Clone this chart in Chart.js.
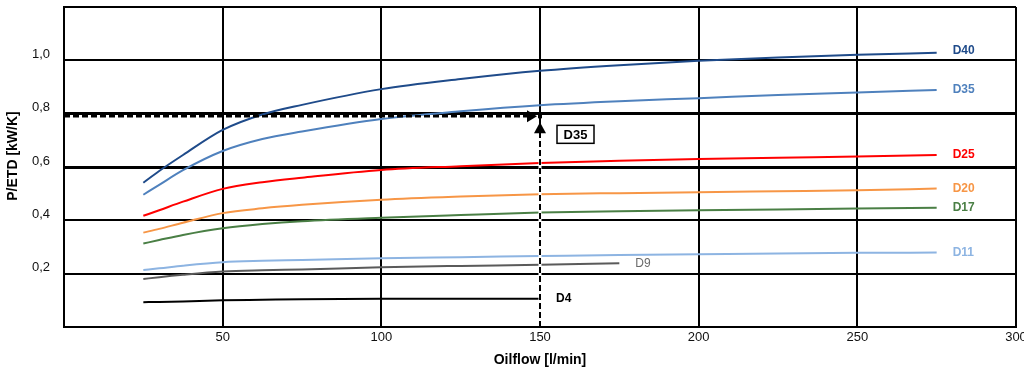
<!DOCTYPE html>
<html>
<head>
<meta charset="utf-8">
<script src="https://cdn.jsdelivr.net/npm/chart.js@4.4.0/dist/chart.umd.min.js"></script>
<style>
    body { margin: 0; background: #fff; }
    #wrap { width: 1024px; height: 369px; }
</style>
</head>
<body>
<div id="wrap"><canvas id="chart" width="1024" height="369"></canvas></div>
<script>
// 데이터 (Oilflow [l/min] → P/ETD [kW/K])
const flow = [25, 30, 37.5, 50, 62.5, 75, 100, 125, 150, 175, 200, 225, 250, 275];
const d40 = [0.541, 0.585, 0.645, 0.739, 0.797, 0.833, 0.892, 0.930, 0.961, 0.982, 0.998, 1.011, 1.021, 1.028];
const d35 = [0.496, 0.533, 0.588, 0.660, 0.705, 0.733, 0.780, 0.809, 0.832, 0.847, 0.858, 0.870, 0.879, 0.889];
const d25 = [0.417, 0.438, 0.470, 0.518, 0.543, 0.560, 0.589, 0.603, 0.615, 0.623, 0.630, 0.635, 0.639, 0.645];
const d20 = [0.354, 0.368, 0.391, 0.427, 0.445, 0.458, 0.477, 0.489, 0.498, 0.502, 0.505, 0.509, 0.513, 0.519];
const d17 = [0.313, 0.326, 0.345, 0.370, 0.386, 0.397, 0.410, 0.420, 0.429, 0.434, 0.438, 0.441, 0.444, 0.447];
const d11 = [0.214, 0.220, 0.230, 0.243, 0.248, 0.251, 0.258, 0.262, 0.266, 0.270, 0.273, 0.276, 0.278, 0.279];
const d9 = [0.180, 0.187, 0.196, 0.208, 0.213, 0.216, 0.224, 0.229, 0.233, 0.239];
const d4 = [0.093, 0.094, 0.096, 0.100, 0.102, 0.104, 0.106, 0.106, 0.106];

const seriesNames = ['D40', 'D35', 'D25', 'D20', 'D17', 'D11', 'D9', 'D4'];
const seriesValues = [d40, d35, d25, d20, d17, d11, d9, d4];
const seriesColors = ['#1f4b8a', '#4f81bd', '#ff0000', '#f79646', '#4a7f45', '#8db4e2', '#5a5a5a', '#000000'];
const labelColors = ['#1f4b8a', '#4f81bd', '#ff0000', '#f79646', '#4a7f45', '#8db4e2', '#6a6a6a', '#000000'];

const xTicks = [50, 100, 150, 200, 250, 300];
const yTicks = [0.2, 0.4, 0.6, 0.8, 1.0];

// 예시 읽기 (150 l/min, D35)
const readFlow = 150;
const readValue = 0.79;
const readLabel = 'D35';

const FONT = "'Liberation Sans', Arial, sans-serif";

const datasets = seriesNames.map((name, i) => ({
    label: name,
    data: seriesValues[i].map((v, j) => ({ x: flow[j], y: v })),
    borderColor: seriesColors[i],
    borderWidth: 2,
    pointRadius: 0,
    fill: false,
    cubicInterpolationMode: 'monotone'
}));

// 곡선 이름, 축 제목, 읽기 화살표
const overlayPlugin = {
    id: 'overlay',
    afterDatasetsDraw(chart) {
        const ctx = chart.ctx;
        const area = chart.chartArea;
        const xs = chart.scales.x;
        const ys = chart.scales.y;
        ctx.save();

        // 곡선 끝 라벨
        ctx.textBaseline = 'middle';
        ctx.textAlign = 'left';
        seriesNames.forEach((name, i) => {
            const pts = chart.getDatasetMeta(i).data;
            const last = pts[pts.length - 1];
            ctx.font = (name === 'D9' ? '' : 'bold ') + '12px ' + FONT;
            ctx.fillStyle = labelColors[i];
            ctx.fillText(name, last.x + 16, last.y - (i === 0 ? 2 : 0));
        });

        // 점선 화살표
        const px = xs.getPixelForValue(readFlow);
        const py = ys.getPixelForValue(readValue);

        // 세로 격자선 아래쪽을 지우고 점선으로
        ctx.strokeStyle = '#fff';
        ctx.lineWidth = 3;
        ctx.beginPath();
        ctx.moveTo(px, area.bottom - 2);
        ctx.lineTo(px, py + 8);
        ctx.stroke();

        ctx.strokeStyle = '#000';
        ctx.fillStyle = '#000';
        ctx.lineWidth = 2.5;
        ctx.setLineDash([6, 3]);
        ctx.beginPath();
        ctx.moveTo(area.left, py);
        ctx.lineTo(px - 10, py);
        ctx.stroke();
        ctx.lineWidth = 2;
        ctx.beginPath();
        ctx.moveTo(px, area.bottom);
        ctx.lineTo(px, py + 16);
        ctx.stroke();
        ctx.setLineDash([]);

        ctx.beginPath();
        ctx.moveTo(px - 3, py);
        ctx.lineTo(px - 13, py - 6);
        ctx.lineTo(px - 13, py + 6);
        ctx.closePath();
        ctx.fill();
        ctx.beginPath();
        ctx.moveTo(px, py + 6);
        ctx.lineTo(px - 6, py + 17);
        ctx.lineTo(px + 6, py + 17);
        ctx.closePath();
        ctx.fill();
        ctx.fillRect(px - 2, py - 2, 4, 4);

        // D35 상자
        const bx = px + 17, by = py + 9, bw = 37, bh = 18;
        ctx.fillStyle = '#fff';
        ctx.fillRect(bx, by, bw, bh);
        ctx.lineWidth = 1.5;
        ctx.strokeRect(bx, by, bw, bh);
        ctx.fillStyle = '#000';
        ctx.font = 'bold 13px ' + FONT;
        ctx.textAlign = 'center';
        ctx.fillText(readLabel, bx + bw / 2, by + bh / 2 + 1);

        // 축 제목
        ctx.font = 'bold 14px ' + FONT;
        ctx.fillText('Oilflow [l/min]', (area.left + area.right) / 2, 360);
        ctx.translate(13, 156);
        ctx.rotate(-Math.PI / 2);
        ctx.fillText('P/ETD [kW/K]', 0, 0);
        ctx.restore();
    }
};

const isThick = v => Math.abs(v - 0.6) < 1e-6 || Math.abs(v - 0.8) < 1e-6;

new Chart(document.getElementById('chart').getContext('2d'), {
    type: 'line',
    data: { datasets: datasets },
    options: {
        responsive: false,
        animation: false,
        layout: { padding: { top: 7, right: 8, left: 0, bottom: 0 } },
        plugins: {
            legend: { display: false },
            tooltip: { enabled: false }
        },
        scales: {
            x: {
                type: 'linear',
                min: 0,
                max: 300,
                afterBuildTicks: s => { s.ticks = [0].concat(xTicks).map(v => ({ value: v })); },
                afterFit: s => { s.height = 42; s.paddingLeft = 0; s.paddingRight = 0; },
                ticks: {
                    color: '#111',
                    padding: 3,
                    font: { family: FONT, size: 13 },
                    maxRotation: 0,
                    callback: v => (v === 0 ? '' : String(v))
                },
                grid: { color: '#000', lineWidth: 2, drawTicks: false },
                border: { color: '#000', width: 2 }
            },
            y: {
                min: 0,
                max: 1.2,
                afterBuildTicks: s => { s.ticks = [0].concat(yTicks, [1.2]).map(v => ({ value: v })); },
                afterFit: s => { s.width = 64; s.paddingTop = 0; s.paddingBottom = 0; },
                ticks: {
                    color: '#111',
                    padding: 14,
                    labelOffset: -6,
                    font: { family: FONT, size: 13 },
                    callback: v => (v === 0 || v > 1.1 ? '' : v.toFixed(1).replace('.', ','))
                },
                grid: {
                    color: '#000',
                    lineWidth: c => (c.tick && isThick(c.tick.value) ? 3 : 2),
                    drawTicks: false
                },
                border: { color: '#000', width: 2 }
            }
        }
    },
    plugins: [overlayPlugin]
});
</script>
</body>
</html>
